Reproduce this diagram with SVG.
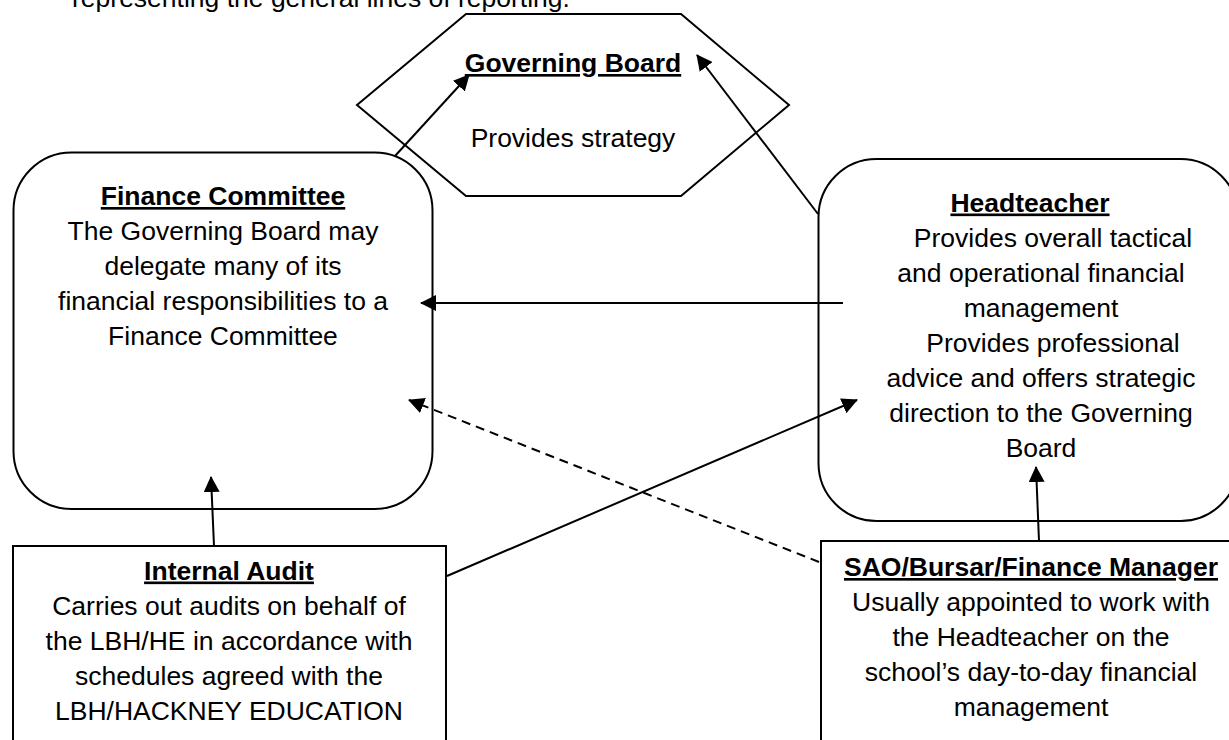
<svg xmlns="http://www.w3.org/2000/svg" width="1229" height="740" viewBox="0 0 1229 740">
  <style>
    text { font-family: "Liberation Sans", Arial, sans-serif; font-size: 26.5px; fill: #000; }
    .c { text-anchor: middle; }
    .t { font-weight: bold; text-decoration: underline; }
    .shape { fill: none; stroke: #000; stroke-width: 2; }
    .link { fill: none; stroke: #000; stroke-width: 2; marker-end: url(#arrow); }
    .dash { stroke-dasharray: 9 6; }
  </style>
  <defs>
    <marker id="arrow" markerUnits="userSpaceOnUse" markerWidth="16" markerHeight="16" refX="15" refY="8" orient="auto">
      <path d="M0,0 L16,8 L0,16 Z" fill="#000"/>
    </marker>
  </defs>
  <rect width="1229" height="740" fill="#fff"/>

  <text x="72" y="7">representing the general lines of reporting.</text>

  <g id="governing-board">
    <polygon class="shape" points="466,14 681,14 789,105 681,196 466,196 357,105"/>
    <text class="c t" x="573" y="72">Governing Board</text>
    <text class="c" x="573" y="146.5">Provides strategy</text>
  </g>

  <g id="finance-committee">
    <rect class="shape" x="13.5" y="152.5" width="419" height="356.5" rx="58" ry="58"/>
    <text class="c t" x="223" y="205">Finance Committee</text>
    <text class="c" x="223" y="240">The Governing Board may</text>
    <text class="c" x="223" y="275">delegate many of its</text>
    <text class="c" x="223" y="310">financial responsibilities to a</text>
    <text class="c" x="223" y="345">Finance Committee</text>
  </g>

  <g id="headteacher">
    <rect class="shape" x="818.5" y="159" width="420" height="362" rx="58" ry="58"/>
    <text class="c t" x="1030" y="211.5">Headteacher</text>
    <text class="c" x="1053" y="246.5">Provides overall tactical</text>
    <text class="c" x="1041" y="281.5">and operational financial</text>
    <text class="c" x="1041" y="316.5">management</text>
    <text class="c" x="1053" y="351.5">Provides professional</text>
    <text class="c" x="1041" y="386.5">advice and offers strategic</text>
    <text class="c" x="1041" y="421.5">direction to the Governing</text>
    <text class="c" x="1041" y="456.5">Board</text>
  </g>

  <g id="internal-audit">
    <rect class="shape" x="13" y="546" width="433" height="220"/>
    <text class="c t" x="229" y="579.5">Internal Audit</text>
    <text class="c" x="229" y="615">Carries out audits on behalf of</text>
    <text class="c" x="229" y="650">the LBH/HE in accordance with</text>
    <text class="c" x="229" y="685">schedules agreed with the</text>
    <text class="c" x="229" y="720">LBH/HACKNEY EDUCATION</text>
  </g>

  <g id="finance-manager">
    <rect class="shape" x="821" y="541" width="420" height="220"/>
    <text class="c t" x="1031" y="576">SAO/Bursar/Finance Manager</text>
    <text class="c" x="1031" y="611">Usually appointed to work with</text>
    <text class="c" x="1031" y="646">the Headteacher on the</text>
    <text class="c" x="1031" y="681">school’s day-to-day financial</text>
    <text class="c" x="1031" y="716">management</text>
  </g>

  <g id="connectors">
    <line class="link" x1="395" y1="156" x2="469" y2="75"/>
    <line class="link" x1="818" y1="214" x2="697" y2="55"/>
    <line class="link" x1="843" y1="303" x2="421" y2="303"/>
    <line class="link" x1="447" y1="576" x2="857" y2="400"/>
    <line class="link dash" x1="819" y1="562" x2="409" y2="400"/>
    <line class="link" x1="214" y1="546" x2="211" y2="477"/>
    <line class="link" x1="1039" y1="541" x2="1036" y2="467"/>
  </g>
</svg>
